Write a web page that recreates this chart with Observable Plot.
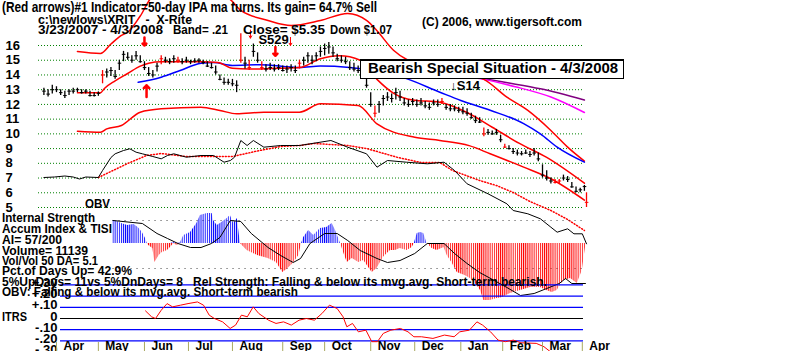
<!DOCTYPE html>
<html><head><meta charset="utf-8">
<script src="https://cdn.jsdelivr.net/npm/d3@7"></script>
<script src="https://cdn.jsdelivr.net/npm/@observablehq/plot@0.6"></script>
<style>
html,body{margin:0;padding:0;background:#fff;}
#chart{position:relative;width:800px;height:351px;overflow:hidden;background:#fff;}
#chart svg{position:absolute;left:0;top:0;}
.t{position:absolute;font-weight:bold;font-family:'Liberation Sans',Arial,sans-serif;white-space:pre;line-height:1;transform-origin:0 0;color:#000;}
.box{position:absolute;left:360px;top:59px;width:262px;height:17px;border:1px solid #000;border-top-width:2px;background:#fff;}
</style></head><body><div id="chart"></div>
<script>
// ---------- data (x = trading session number since 3/23/2007) ----------
const priceTicks = [16,15,14,13,12,11,10,9,8,7,6,5];
const months = ["Apr","May","Jun","Jul","Aug","Sep","Oct","Nov","Dec","Jan","Feb","Mar","Apr"];
const monthStart = [6,26,48,69,90,114,134,156,177,199,219,238,257];
// [session, low, high, close]
const priceBars = [[0,12.6,13.1,12.9],[2,12.5,13.0,12.7],[4,12.7,13.3,13.0],[6,12.8,13.2,13.0],[8,12.6,13.0,12.8],[10,12.4,12.9,12.6],[12,12.6,13.0,12.9],[14,12.7,13.1,12.9],[16,12.8,13.1,13.0],[18,12.7,13.0,12.8],[20,12.7,13.0,12.9],[22,12.5,12.9,12.6],[24,12.5,12.8,12.6],[26,12.55,12.85,12.75],[28,13.4,14.3,14.0],[30,13.8,14.4,14.2],[32,13.9,14.5,14.3],[34,13.7,14.3,13.9],[36,14.3,15.0,14.8],[38,14.9,15.6,15.4],[40,15.0,15.5,15.2],[42,14.8,15.3,15.0],[44,15.0,15.6,15.3],[46,14.8,15.3,14.9],[48,14.3,14.9,14.5],[50,13.9,14.5,14.1],[52,13.8,14.3,14.0],[54,14.2,14.8,14.6],[56,14.7,15.3,15.1],[58,14.8,15.2,15.0],[60,14.7,15.1,14.9],[62,14.8,15.3,15.1],[64,14.8,15.2,15.0],[66,14.7,15.1,14.9],[68,14.8,15.2,15.0],[70,14.7,15.0,14.9],[72,14.8,15.1,14.95],[74,14.8,15.1,15.0],[76,14.7,15.0,14.85],[78,14.5,14.9,14.6],[80,14.4,14.8,14.5],[82,14.0,14.6,14.2],[84,13.6,14.0,13.7],[86,13.3,13.8,13.5],[88,13.3,13.7,13.5],[90,13.2,13.7,13.4],[92,12.8,13.6,13.3],[94,14.8,16.8,15.0],[96,14.4,15.2,14.8],[98,14.3,15.0,14.5],[100,15.2,16.1,15.6],[102,14.8,15.5,15.0],[104,14.3,14.9,14.5],[106,14.2,14.7,14.4],[108,14.3,14.8,14.5],[110,14.2,14.7,14.4],[112,14.3,14.7,14.5],[114,14.2,14.6,14.3],[116,14.1,14.6,14.4],[118,14.2,14.7,14.5],[120,14.1,14.6,14.3],[122,14.4,15.0,14.8],[124,14.6,15.2,15.0],[126,14.8,15.5,15.3],[128,14.7,15.3,15.0],[130,14.9,15.5,15.3],[132,15.2,15.9,15.6],[134,15.3,16.1,15.8],[136,15.4,16.2,15.9],[138,15.2,15.9,15.5],[140,14.9,15.4,15.1],[142,14.8,15.3,15.0],[144,14.7,15.2,14.9],[146,14.3,14.9,14.5],[148,14.2,14.8,14.4],[150,14.1,14.6,14.3],[152,14.0,14.5,14.2],[154,13.1,13.8,13.3],[156,11.8,12.8,12.0],[158,11.1,11.9,11.4],[160,11.4,12.2,12.0],[162,11.9,12.6,12.4],[164,12.2,12.8,12.5],[166,12.1,12.7,12.4],[168,12.3,13.1,12.8],[170,12.2,12.9,12.5],[172,11.9,12.4,12.1],[174,11.8,12.3,12.0],[176,11.9,12.4,12.2],[178,11.8,12.3,12.0],[180,11.9,12.4,12.1],[182,11.7,12.2,11.9],[184,11.6,12.1,11.8],[186,11.9,12.3,12.1],[188,11.8,12.3,12.0],[190,12.0,12.4,12.2],[192,11.6,12.0,11.8],[194,11.5,12.0,11.7],[196,11.5,11.9,11.7],[198,11.4,11.8,11.6],[200,11.3,11.8,11.5],[202,11.2,11.7,11.4],[204,11.0,11.4,11.1],[206,10.7,11.2,10.9],[208,10.7,11.1,10.8],[210,9.8,10.4,10.0],[212,9.9,10.3,10.1],[214,9.9,10.2,10.0],[216,9.9,10.3,10.1],[218,9.4,9.9,9.6],[220,9.0,9.3,9.1],[222,8.9,9.2,9.0],[224,8.6,9.0,8.8],[226,8.5,8.9,8.7],[228,8.5,8.8,8.65],[230,8.6,8.9,8.7],[232,8.4,8.8,8.6],[234,8.5,9.0,8.7],[236,8.1,8.7,8.3],[238,7.0,7.9,7.2],[240,6.8,7.5,7.0],[242,6.6,7.0,6.8],[244,6.6,6.9,6.7],[246,6.6,6.9,6.8],[248,6.8,7.2,7.0],[250,6.7,7.1,6.9],[252,6.3,6.7,6.4],[254,6.0,6.4,6.1],[256,6.0,6.3,6.2],[258,6.1,6.5,6.42],[259,5.0,6.0,5.35]];
const redBars = [28,56,64,94,98,104,122,158,190,210,220,244,246,259];
const ma21 = [[16,12.8],[22,12.8],[27,12.8],[29,13.1],[34,13.6],[40,14.1],[46,14.6],[50,14.8],[56,14.9],[66,14.9],[75,14.9],[83,14.85],[90,14.45],[98,14.4],[110,14.45],[122,14.5],[132,15.1],[141,15.3],[151,15.0],[159,13.7],[167,12.75],[176,12.3],[189,12.15],[202,11.45],[214,10.45],[227,9.35],[240,8.4],[258,6.65]];
const upperBand = [[16,15.59],[27,15.46],[32,16.1],[37,16.68],[40,16.9],[46,18.0],[52,19.3],[70,19.6],[88,19.2],[94,18.38],[107,17.7],[118,17.36],[132,17.7],[145,18.17],[154,17.7],[159,17.0],[167,15.66],[174,14.98],[190,14.4],[210,13.7],[221,12.49],[231,11.59],[242,10.23],[250,9.1],[258,8.15]];
const lowerBand = [[16,10.18],[27,10.11],[30,10.34],[37,10.57],[46,11.47],[56,11.7],[75,11.81],[84,11.59],[92,11.36],[105,11.47],[122,11.47],[132,12.04],[150,11.93],[159,10.68],[177,9.77],[189,9.55],[203,9.2],[213,8.65],[229,7.74],[242,6.95],[258,5.5]];
const ma50 = [[45,13.5],[56,13.85],[65,14.3],[75,14.8],[81,14.85],[90,14.65],[103,14.7],[122,14.5],[132,14.6],[146,14.5],[161,14.2],[172,13.8],[189,12.83],[199,12.27],[213,11.6],[229,10.7],[237,10.0],[245,9.1],[258,8.08]];
const maMagenta = [[196,14.0],[208,13.75],[225,13.2],[242,12.5],[258,11.45]];
const maPurple = [[196,14.0],[205,13.85],[222,13.45],[237,13.06],[258,12.3]];
const thickArrows = [{s:48,from:16.55,to:16.0},{s:49,from:12.5,to:13.3},{s:110.5,from:15.9,to:15.3}];
const thinArrows = [{s:98.6,from:17.05,to:16.5},{s:117.7,from:16.55,to:16.0}];
const signalLabels = [{s:102.4,p:16.07,text:"S529"},{s:194,p:12.95,text:"↓S14"}];
// On-balance volume (thousands) and its moving average
const obv = [[0,0],[5,5],[10,15],[14,5],[17,-15],[20,5],[26,0],[28,70],[32,200],[34,237],[38,270],[41,287],[44,253],[47,237],[52,210],[56,187],[59,220],[62,237],[68,203],[75,220],[81,220],[86,153],[89,170],[91,203],[94,370],[97,320],[100,370],[105,303],[113,320],[122,320],[137,370],[145,303],[154,237],[159,103],[164,170],[173,153],[183,137],[191,153],[196,70],[202,-63],[212,-163],[221,-263],[224,-330],[231,-363],[237,-413],[242,-497],[245,-547],[250,-513],[253,-563],[257,-563],[259,-663]];
const obvMA = [[26,0],[30,40],[40,140],[49,220],[56,240],[68,210],[81,210],[90,210],[103,270],[113,310],[122,320],[129,340],[145,320],[154,290],[169,200],[180,150],[189,150],[195,70],[208,-30],[216,-80],[224,-150],[232,-240],[242,-330],[250,-420],[258,-530]];
// Accumulation index and its moving average
const ai = [[33,.23],[34,.23],[37,.20],[40,.18],[43,.19],[45,.16],[47,.11],[48.5,.05],[49.3,0],[50,-.02],[52,-.05],[53,-.19],[55,-.12],[56.5,-.09],[59,-.07],[60.4,-.04],[62,.01],[63.6,-.02],[65.2,.01],[66.8,.08],[70,.11],[73,.20],[74.7,.28],[78,.30],[80.3,.30],[81,.23],[82.7,.18],[84.3,.20],[87.5,.25],[89,.28],[90.6,.20],[92.3,.25],[93.8,0],[97,-.07],[102,-.12],[107,-.15],[111,-.19],[114,-.29],[116,-.26],[119,-.20],[121.7,-.12],[123,0],[124,.06],[126.4,.13],[128.8,.08],[132,.15],[135,.16],[137.6,.20],[139.2,.13],[141.6,0],[143.2,-.10],[144.8,-.19],[147.2,-.15],[150.3,-.19],[152.7,-.17],[155,-.24],[156.7,-.29],[159,-.25],[162,-.14],[165.4,-.07],[167.8,-.07],[170,-.05],[173.4,-.07],[175.8,-.04],[176.8,0],[178.2,.10],[179.8,.11],[181.3,.10],[182.9,0],[185.3,-.05],[187.7,-.07],[191,-.04],[192.5,-.12],[195,-.20],[197.3,-.29],[201,-.32],[203.6,-.35],[206.8,-.42],[208.4,-.47],[210,-.57],[213,-.57],[216.4,-.55],[218.8,-.54],[222.7,-.50],[227.5,-.47],[232.3,-.44],[237,-.44],[240,-.47],[242.6,-.49],[245,-.47],[248,-.37],[251.4,-.35],[254.6,-.40],[257,-.27],[258.5,-.04]];
const aiMA = [[33,.23],[47,.20],[54,.10],[59,.05],[64,0],[70,-.04],[75,-.04],[80,0],[84,.06],[89,.23],[94,.22],[99,.10],[107,-.04],[113,-.12],[119,-.19],[122.5,-.15],[127,0],[134,.10],[140,.10],[145,.03],[151,-.07],[159,-.15],[164,-.19],[170,-.17],[177,-.10],[183,0],[191,0],[196,-.10],[202,-.20],[208,-.29],[215,-.37],[221,-.44],[227.5,-.52],[234,-.50],[240,-.45],[246,-.40],[249,-.35],[252,-.40],[258.5,-.40]];
const aiLevels = [.23,-.25];
// ITRS relative strength
const itrs = [[48.5,.068],[51.4,.015],[53.3,0],[56,.074],[58.8,.133],[61.4,.104],[65.2,.119],[68.8,.133],[73.3,.148],[76.2,.119],[78.9,.03],[81.4,0],[85.3,-.03],[88.9,-.089],[91.5,-.059],[94.3,.03],[97.1,.015],[99.9,.104],[102.6,.044],[107.2,-.015],[110.8,-.044],[114.4,-.03],[118.1,-.059],[121.8,-.015],[125.3,0],[129.1,-.015],[132.7,.044],[136.3,.119],[140,.089],[142.8,.015],[144.6,-.074],[147.3,-.044],[150.1,-.119],[153.7,-.104],[156.5,-.207],[159.2,-.207],[162,-.133],[165.6,-.104],[170.2,-.089],[173.8,-.119],[176.6,-.163],[180.2,-.163],[185.7,-.178],[191.2,-.148],[195.8,-.163],[198.5,-.119],[203.1,-.104],[206.7,-.03],[209.4,-.059],[213.2,-.119],[216.8,-.193],[220.3,-.207],[224.1,-.193],[227.7,-.217],[235,-.222],[238.7,-.252],[242,-.30]];
const itrsTicks = [.3,.2,.1,0,-.1,-.2,-.3];
const itrsLabels = ["+.30","+.20","+.10","0","-.10","-.20","-.30"];

// ---------- drawing ----------
const chart = document.getElementById("chart");
const FONT = "'Liberation Sans', Arial, sans-serif";
const X = {type:"linear", domain:[0,259], range:[43.4,586], axis:null};
const sx = d => d[0], sy = d => d[1];
function layer(opts) {
  const svg = Plot.plot(Object.assign({width:800, height:351, marginTop:0, marginBottom:0, marginLeft:38, marginRight:216,
    x: X, style:{background:"none", fontFamily:FONT}}, opts));
  chart.append(svg);
  return svg;
}
const barColor = d => redBars.includes(d[0]) ? "#ff0000" : "#000000";

// price panel
layer({
  y:{domain:[5,16], range:[207,45], axis:null},
  color:{type:"identity"},
  marks:[
    Plot.ruleY(priceTicks, {y:d=>d, stroke:"#008000", strokeDasharray:"1,2"}),
    Plot.text(priceTicks, {y:d=>d, text:d=>String(d), frameAnchor:"left", dx:-33, textAnchor:"start", lineAnchor:"middle", fontSize:13, fontWeight:"bold", fill:"#000"}),
    Plot.line(maPurple, {x:sx, y:sy, stroke:"#800080", curve:"monotone-x"}),
    Plot.line(maMagenta, {x:sx, y:sy, stroke:"#ff00ff", curve:"monotone-x"}),
    Plot.line(upperBand, {x:sx, y:sy, stroke:"#ff0000", curve:"monotone-x"}),
    Plot.line(lowerBand, {x:sx, y:sy, stroke:"#ff0000", curve:"monotone-x"}),
    Plot.line(ma50, {x:sx, y:sy, stroke:"#0000ff", curve:"monotone-x"}),
    Plot.line(ma21, {x:sx, y:sy, stroke:"#ff0000", curve:"monotone-x"}),
    Plot.ruleX(priceBars, {x:d=>d[0], y1:d=>d[1], y2:d=>d[2], stroke:barColor, strokeWidth:1.3}),
    Plot.link(priceBars, {x1:d=>d[0]-0.8, x2:d=>d[0]+0.9, y1:d=>d[3], y2:d=>d[3], stroke:barColor}),
    Plot.arrow(thickArrows, {x:d=>d.s, y1:d=>d.from, y2:d=>d.to, stroke:"#ff0000", strokeWidth:2.5, headLength:5, headAngle:90}),
    Plot.arrow(thinArrows, {x:d=>d.s, y1:d=>d.from, y2:d=>d.to, stroke:"#ff0000", strokeWidth:1, headLength:4}),
    Plot.text(signalLabels, {x:"s", y:"p", text:"text", textAnchor:"start", lineAnchor:"bottom", fontSize:13, fontWeight:"bold", fill:"#000"})
  ]
});

// OBV overlay
layer({
  y:{domain:[-700,400], range:[247,137], axis:null},
  marks:[
    Plot.line(obvMA, {x:sx, y:sy, stroke:"#ff0000", strokeDasharray:"1,2"}),
    Plot.line(obv, {x:sx, y:sy, stroke:"#000", strokeWidth:1})
  ]
});

// Accumulation index panel
const aiSvg = layer({
  y:{domain:[-0.6,0.3], range:[303,213], axis:null},
  marks:[
    Plot.ruleY(aiLevels, {y:d=>d, x1:ai[0][0], x2:ai[ai.length-1][0], stroke:"#444", strokeDasharray:"1,5"}),
    Plot.areaY(ai, {x:sx, y1:0, y2:d=>Math.max(d[1],0), fill:"url(#bstripe)"}),
    Plot.areaY(ai, {x:sx, y1:0, y2:d=>Math.min(d[1],0), fill:"url(#rstripe)"}),
    Plot.line(aiMA, {x:sx, y:sy, stroke:"#000", strokeWidth:1})
  ]
});
(function addPatterns(svg){
  const NS = "http://www.w3.org/2000/svg";
  const defs = document.createElementNS(NS, "defs");
  [["bstripe","#0000ff"],["rstripe","#ff0000"]].forEach(([id,c]) => {
    const p = document.createElementNS(NS, "pattern");
    p.setAttribute("id", id); p.setAttribute("patternUnits","userSpaceOnUse");
    p.setAttribute("x","43.4"); p.setAttribute("width","2.095"); p.setAttribute("height","10");
    const r = document.createElementNS(NS, "rect");
    r.setAttribute("width","1"); r.setAttribute("height","10"); r.setAttribute("fill", c);
    p.appendChild(r); defs.appendChild(p);
  });
  svg.insertBefore(defs, svg.firstChild);
})(aiSvg);

// ITRS panel
layer({
  marginLeft:60, marginRight:217,
  y:{domain:[-0.3,0.3], range:[351.6,284.4], axis:null},
  marks:[
    Plot.ruleY(itrsTicks.filter(d=>d!==0), {y:d=>d, stroke:"#0000ff", strokeWidth:1.2}),
    Plot.ruleY([0], {stroke:"#000", strokeWidth:1.2}),
    Plot.line(itrs, {x:sx, y:sy, stroke:"#ff0000", strokeWidth:1}),
    Plot.text(itrsTicks, {y:d=>d, text:(d,i)=>itrsLabels[i], frameAnchor:"left", dx:-3, dy:-2, textAnchor:"end", lineAnchor:"middle", fontSize:13, fontWeight:"bold", fill:"#000"})
  ]
});

// month axis
layer({
  marginTop:342, marginBottom:0,
  marks:[
    Plot.ruleX(monthStart, {x:d=>d, stroke:"#a8a860"}),
    Plot.text(monthStart, {x:d=>d, text:(d,i)=>months[i], frameAnchor:"bottom", textAnchor:"start", lineAnchor:"bottom", dx:7, dy:-2, fontSize:12, fontWeight:"bold", fill:"#000"})
  ]
});

// ---------- text overlays ----------
const box = document.createElement("div"); box.className = "box"; chart.append(box);
const texts = [
  ["(Red arrows)#1 Indicator=50-day IPA ma turns. Its gain= 64.7% Sell", 2, 11.5, 375, 14],
  ["c:\\newlows\\XRIT   -  X-Rite", 38, 24.3, 154, 12],
  ["3/23/2007 - 4/3/2008", 38, 34.3, 125, 12],
  ["Band= .21", 173, 34.3, 55, 12],
  ["Close= $5.35", 243, 34.3, 82, 12],
  ["Down $1.07", 330, 34.3, 62, 12],
  ["(C) 2006, www.tigersoft.com", 422, 26, 160, 12],
  ["Bearish Special Situation - 4/3/2008", 368, 73, 250, 15],
  ["OBV", 85, 208, 25, 13],
  ["Internal Strength", 2, 222.5, 93, 13],
  ["Accum Index & TISI", 2, 233.5, 110, 13],
  ["AI= 57/200", 2, 244.5, 60, 13],
  ["Volume= 11139", 2, 255, 86, 13],
  ["Vol/Vol 50 DA= 5.1", 2, 265.5, 96, 13],
  ["Pct.of Days Up= 42.9%", 2, 275.5, 130, 13],
  ["5%UpDays= 11vs 5%DnDays= 8   Rel Strength: Falling & below its mvg.avg. Short-term bearish.", 2, 286, 545, 13],
  ["OBV: Falling & below its mvg.avg. Short-term bearish", 2, 296.5, 296, 13],
  ["ITRS", 2, 321, 25, 13]
];
texts.forEach(([str, x, base, w, size]) => {
  const el = document.createElement("div");
  el.className = "t";
  el.textContent = str;
  el.style.fontSize = size + "px";
  el.style.left = x + "px";
  el.style.top = (base - 0.8465 * size) + "px";
  chart.append(el);
  const nat = el.getBoundingClientRect().width;
  if (nat > 0) el.style.transform = `scaleX(${w / nat})`;
});
</script></body></html>
